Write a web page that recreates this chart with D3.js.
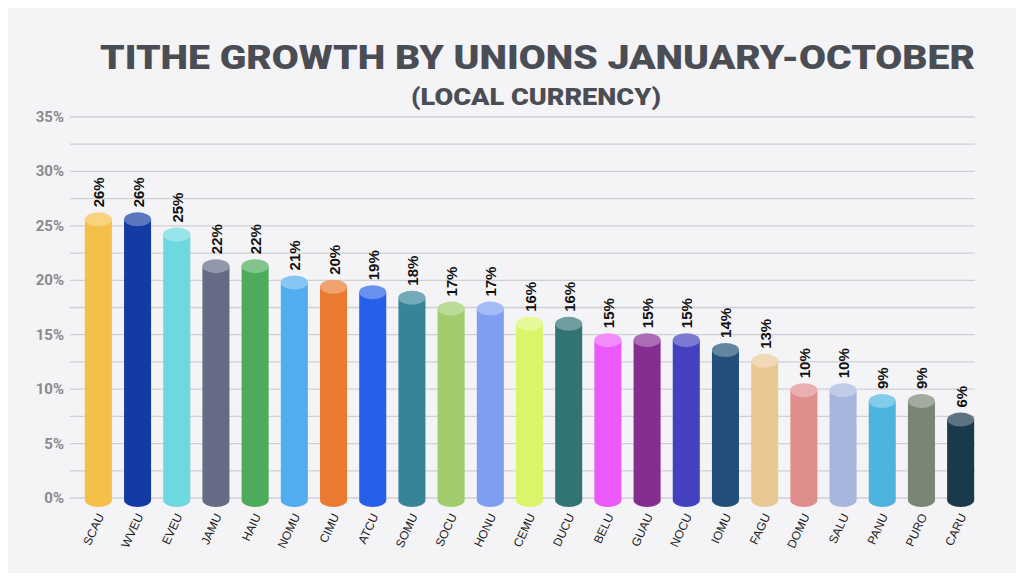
<!DOCTYPE html>
<html><head><meta charset="utf-8">
<script src="https://cdn.jsdelivr.net/npm/d3@7"></script>
<style>body{margin:0;background:#fff}</style></head>
<body><svg id="c" width="1024" height="581"></svg>
<script>
var unions = ['SCAU','WVEU','EVEU','JAMU','HAIU','NOMU','CIMU','ATCU','SOMU','SOCU','HONU','CEMU','DUCU','BELU','GUAU','NOCU','IOMU','FAGU','DOMU','SALU','PANU','PURO','CARU'];
var growth = [25.6,25.6,24.2,21.3,21.3,19.8,19.4,18.9,18.4,17.4,17.4,16,16,14.5,14.5,14.5,13.6,12.6,9.9,9.9,8.9,8.9,7.2];
var labels = ['26%','26%','25%','22%','22%','21%','20%','19%','18%','17%','17%','16%','16%','15%','15%','15%','14%','13%','10%','10%','9%','9%','6%'];
var colors = ['#f5c04a','#133ba3','#6dd8e0','#656a85','#4eab5b','#52adee','#ea7a30','#2660e8','#37849a','#a1cb6c','#7e9ef2','#d9f66b','#327374','#ec59fb','#852d91','#4341c0','#22507a','#eac894','#df8e8d','#a7b6de','#4db4e0','#7b8574','#19394d'];
var yTicks = [0,5,10,15,20,25,30,35];

var svg = d3.select('#c');
svg.append('rect').attr('x',8).attr('y',8).attr('width',1008).attr('height',565).attr('fill','#f4f4f6');

var y = d3.scaleLinear().domain([0,35]).range([498,117]);
var x = d3.scaleBand().domain(unions).range([77,982]).paddingInner(0.31).paddingOuter(0.2);

svg.append('g').selectAll('line').data(d3.range(0,35.1,2.5)).join('line')
  .attr('x1',70).attr('x2',975).attr('y1',d=>y(d)).attr('y2',d=>y(d))
  .attr('stroke','#cfcfd4').attr('stroke-width',1.3);

svg.append('g').selectAll('text').data(yTicks).join('text')
  .attr('x',64).attr('y',d=>y(d)+5).attr('text-anchor','end')
  .attr('font-family','Roboto, Arial, sans-serif').attr('font-weight','bold').attr('font-size',15)
  .attr('fill','#8a8a8e').text(d=>d+'%');

var bw = x.bandwidth(), ry = 7;
var g = svg.append('g').selectAll('g').data(unions).join('g');
g.append('path').attr('fill',(d,i)=>colors[i]).attr('d',function(d,i){
  var x0 = x(d), x1 = x0+bw, t = y(growth[i]), b = y(0)+2;
  return 'M'+x0+','+t+'L'+x0+','+b+'A'+bw/2+','+ry+' 0 0 0 '+x1+','+b+'L'+x1+','+t+'Z';
});
g.append('ellipse').attr('cx',d=>x(d)+bw/2).attr('cy',(d,i)=>y(growth[i])).attr('rx',bw/2).attr('ry',ry)
  .attr('fill',(d,i)=>d3.interpolateRgb(colors[i],'#fff')(0.3));
g.append('text').attr('transform',(d,i)=>'translate('+(x(d)+bw/2+6)+','+(y(growth[i])-12)+') rotate(-90)')
  .attr('font-family','"Liberation Sans", Arial, sans-serif').attr('font-weight','bold').attr('font-size',15).attr('fill','#111')
  .text((d,i)=>labels[i]);
g.append('text').attr('transform',d=>'translate('+(x(d)+bw/2+6)+',516) rotate(-65)')
  .attr('text-anchor','end').attr('font-family','"Liberation Sans", Arial, sans-serif').attr('font-size',12).attr('fill','#222')
  .text(d=>d);

svg.append('text').attr('x',100).attr('y',69)
  .attr('textLength',875).attr('lengthAdjust','spacingAndGlyphs')
  .attr('font-family','Roboto, Arial, sans-serif').attr('font-weight','900').attr('font-size',34).attr('fill','#4b4d55')
  .text('TITHE GROWTH BY UNIONS JANUARY-OCTOBER');
svg.append('text').attr('x',411).attr('y',105)
  .attr('textLength',250).attr('lengthAdjust','spacingAndGlyphs')
  .attr('font-family','Roboto, Arial, sans-serif').attr('font-weight','900').attr('font-size',23).attr('fill','#4b4d55')
  .text('(LOCAL CURRENCY)');
</script></body></html>
